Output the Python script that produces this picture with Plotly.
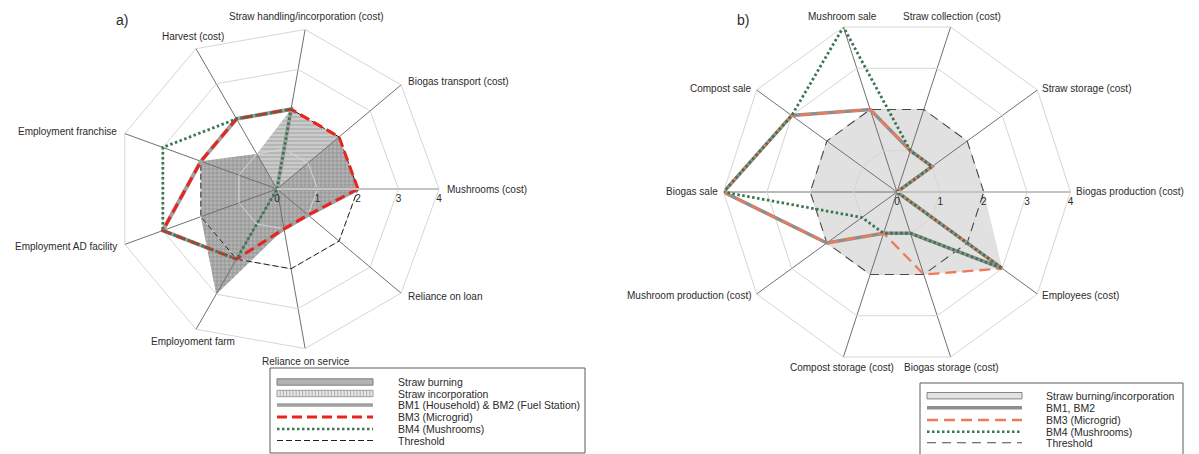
import math
import plotly.graph_objects as go

W, H = 1199, 454

# ---- panel a) business-model comparison (9 criteria) ----
cats_a = [
    "Mushrooms (cost)",
    "Biogas transport (cost)",
    "Straw handling/incorporation (cost)",
    "Harvest (cost)",
    "Employment franchise",
    "Employment AD facility",
    "Employoment farm",
    "Reliance on service",
    "Reliance on loan",
]
straw_burning_a = [2, 2, 2, 1, 2, 2, 3, 1, 1]
straw_incorporation_a = [2, 2, 0, 1, 2, 2, 3, 1, 1]
bm12_a = [2, 0, 2, 2, 2, 3, 2, 1, 1]
bm3_a = [2, 2, 2, 2, 2, 3, 2, 1, 1]
bm4_a = [0, 0, 2, 2, 3, 3, 2, 0, 0]
threshold_a = [2, 2, 2, 2, 2, 2, 2, 2, 2]

# ---- panel b) cost / revenue criteria (10 criteria) ----
cats_b = [
    "Biogas production (cost)",
    "Straw storage (cost)",
    "Straw collection (cost)",
    "Mushroom sale",
    "Compost sale",
    "Biogas sale",
    "Mushroom production (cost)",
    "Compost storage (cost)",
    "Biogas storage (cost)",
    "Employees (cost)",
]
straw_b = [2, 2, 2, 2, 2, 2, 2, 2, 2, 3]
bm12_b = [0, 1, 1, 2, 3, 4, 2, 1, 1, 3]
bm3_b = [0, 1, 1, 2, 3, 4, 2, 1, 2, 3]
bm4_b = [0, 1, 1, 4, 3, 4, 1, 1, 1, 3]
threshold_b = [2, 2, 2, 2, 2, 2, 2, 2, 2, 2]

radial_ticks = [0, 1, 2, 3, 4]
r_max = 4

legend_a = ["Straw burning", "Straw incorporation",
            "BM1 (Household) & BM2 (Fuel Station)", "BM3 (Microgrid)",
            "BM4 (Mushrooms)", "Threshold"]
legend_b = ["Straw burning/incorporation", "BM1, BM2", "BM3 (Microgrid)",
            "BM4 (Mushrooms)", "Threshold"]

# ---- layout geometry (pixels) ----
CX_A, CY_A, R_A = 277, 189, 162
CX_B, CY_B, R_B = 897, 192, 173.5
FONT = "Liberation Sans, Arial, sans-serif"
TXT = "#2b2b2b"


def px(x):
    return x / W


def py(y):
    return 1 - y / H


def domain(cx, cy, r):
    return dict(x=[px(cx - r), px(cx + r)], y=[py(cy + r), py(cy - r)])


def closed(v):
    v = list(v)
    return v + v[:1]


def polygon_xy(values):
    n = len(values)
    xs = [v * math.cos(2 * math.pi * i / n) for i, v in enumerate(values)]
    ys = [v * math.sin(2 * math.pi * i / n) for i, v in enumerate(values)]
    return closed(xs), closed(ys)


fig = go.Figure()

# ---- hatched straw areas (cartesian layer sits beneath the polar grid) ----
xb, yb = polygon_xy(straw_burning_a)
fig.add_trace(go.Scatter(
    x=xb, y=yb, xaxis="x", yaxis="y", mode="lines", fill="toself",
    line=dict(width=0), fillcolor="rgba(140,140,140,0.45)",
    fillpattern=dict(shape="-", fgcolor="#858585", size=4, solidity=0.3,
                     fillmode="overlay"),
    hoverinfo="skip", showlegend=False))
xi, yi = polygon_xy(straw_incorporation_a)
fig.add_trace(go.Scatter(
    x=xi, y=yi, xaxis="x", yaxis="y", mode="lines", fill="toself",
    line=dict(width=0), fillcolor="rgba(140,140,140,0.36)",
    fillpattern=dict(shape="|", fgcolor="#858585", size=4, solidity=0.3,
                     fillmode="overlay"),
    hoverinfo="skip", showlegend=False))
xs, ys = polygon_xy(straw_b)
fig.add_trace(go.Scatter(
    x=xs, y=ys, xaxis="x2", yaxis="y2", mode="lines", fill="toself",
    line=dict(width=0), fillcolor="#e1e1e1",
    hoverinfo="skip", showlegend=False))

# ---- panel a lines ----
fig.add_trace(go.Scatterpolar(
    r=closed(threshold_a), theta=closed(cats_a), subplot="polar", mode="lines",
    line=dict(color="#1e1e1e", width=1, dash="6px,3px"), showlegend=False))
fig.add_trace(go.Scatterpolar(
    r=closed(bm12_a), theta=closed(cats_a), subplot="polar", mode="lines",
    line=dict(color="#a0a0a0", width=4), showlegend=False))
fig.add_trace(go.Scatterpolar(
    r=closed(bm3_a), theta=closed(cats_a), subplot="polar", mode="lines",
    line=dict(color="#e8241d", width=3, dash="10px,5px"), showlegend=False))
fig.add_trace(go.Scatterpolar(
    r=closed(bm4_a), theta=closed(cats_a), subplot="polar", mode="lines",
    line=dict(color="#3b7650", width=2.8, dash="2.5px,2.5px"), showlegend=False))

# ---- panel b lines ----
fig.add_trace(go.Scatterpolar(
    r=closed(threshold_b), theta=closed(cats_b), subplot="polar2", mode="lines",
    line=dict(color="#4a4a4a", width=1.1, dash="9px,6px"), showlegend=False))
fig.add_trace(go.Scatterpolar(
    r=closed(bm12_b), theta=closed(cats_b), subplot="polar2", mode="lines",
    line=dict(color="#8e8e8e", width=3.5), showlegend=False))
fig.add_trace(go.Scatterpolar(
    r=closed(bm3_b), theta=closed(cats_b), subplot="polar2", mode="lines",
    line=dict(color="#ee7a5a", width=2.3, dash="11px,6px"), showlegend=False))
fig.add_trace(go.Scatterpolar(
    r=closed(bm4_b), theta=closed(cats_b), subplot="polar2", mode="lines",
    line=dict(color="#3b7650", width=2.8, dash="2.5px,2.5px"), showlegend=False))


def polar_layout(cx, cy, r):
    return dict(
        domain=domain(cx, cy, r),
        bgcolor="rgba(0,0,0,0)",
        gridshape="linear",
        radialaxis=dict(range=[0, r_max], tickvals=radial_ticks, angle=0,
                        showline=True, linecolor="#c4c4c4", linewidth=2,
                        gridcolor="#d6d6d6", gridwidth=1, ticks="",
                        tickfont=dict(size=10, color=TXT, family=FONT)),
        angularaxis=dict(rotation=0, direction="counterclockwise",
                         showticklabels=False, ticks="",
                         gridcolor="#707070", gridwidth=1,
                         showline=True, linecolor="#d6d6d6", linewidth=1),
    )


annotations = []
shapes = []


def category_labels(cats, cx, cy, r, pad):
    n = len(cats)
    for i, c in enumerate(cats):
        a = 2 * math.pi * i / n
        ca, sa = math.cos(a), math.sin(a)
        x = cx + (r + pad) * ca
        y = cy - (r + pad) * sa
        if abs(ca) < 0.6:
            xa = "center"
            ya = "bottom" if sa > 0 else "top"
        else:
            xa = "left" if ca > 0 else "right"
            ya = "middle"
        annotations.append(dict(
            text=c, x=px(x), y=py(y), xref="paper", yref="paper",
            xanchor=xa, yanchor=ya, showarrow=False,
            font=dict(size=10, color=TXT, family=FONT)))


category_labels(cats_a, CX_A, CY_A, R_A, 6)
category_labels(cats_b, CX_B, CY_B, R_B, 3)

# panel letters
for txt, x, y in [("a)", 122, 20), ("b)", 743, 20)]:
    annotations.append(dict(text=txt, x=px(x), y=py(y), xref="paper",
                            yref="paper", xanchor="center", yanchor="middle",
                            showarrow=False,
                            font=dict(size=14, color=TXT, family=FONT)))


def add_legend(box, rows, x0, x1, tx, labels, styles):
    bx0, by0, bx1, by1 = box
    shapes.append(dict(type="rect", xref="paper", yref="paper",
                       x0=px(bx0), x1=px(bx1), y0=py(by1), y1=py(by0),
                       line=dict(color="#5a5a5a", width=1),
                       fillcolor="rgba(255,255,255,0)"))
    for y, lab, st in zip(rows, labels, styles):
        kind = st[0]
        if kind == "rect":
            _, fill, edge, hatch = st
            shapes.append(dict(type="rect", xref="paper", yref="paper",
                               x0=px(x0), x1=px(x1), y0=py(y + 3.2),
                               y1=py(y - 3.2), fillcolor=fill,
                               line=dict(color=edge, width=1)))
            if hatch:
                path = ""
                xx = x0 + 3.2
                while xx < x1 - 1:
                    path += "M{:.5f},{:.5f}L{:.5f},{:.5f}".format(
                        px(xx), py(y + 3.2), px(xx), py(y - 3.2))
                    xx += 3.2
                shapes.append(dict(type="path", xref="paper", yref="paper",
                                   path=path, line=dict(color="#a8a8a8",
                                                        width=1)))
        else:
            _, color, width, dash = st
            shapes.append(dict(type="line", xref="paper", yref="paper",
                               x0=px(x0), x1=px(x1), y0=py(y), y1=py(y),
                               line=dict(color=color, width=width, dash=dash)))
        annotations.append(dict(text=lab, x=px(tx), y=py(y), xref="paper",
                                yref="paper", xanchor="left",
                                yanchor="middle", showarrow=False,
                                font=dict(size=10.5, color=TXT, family=FONT)))


add_legend((270, 368, 585, 453), [382, 393.5, 405, 417, 429, 440.5],
           277, 373, 396, legend_a,
           [("rect", "#b3b3b3", "#7e7e7e", False),
            ("rect", "#e8e8e8", "#9a9a9a", True),
            ("line", "#a0a0a0", 3.5, "solid"),
            ("line", "#e8241d", 3, "10px,5px"),
            ("line", "#3b7650", 2.5, "2.5px,2.5px"),
            ("line", "#1e1e1e", 1, "6px,3px")])

add_legend((920, 383, 1183, 470), [395.7, 407.7, 420, 431.7, 442.7],
           927, 1022, 1044, legend_b,
           [("rect", "#e3e3e3", "#858585", False),
            ("line", "#8e8e8e", 3.5, "solid"),
            ("line", "#ee7a5a", 2.3, "11px,6px"),
            ("line", "#3b7650", 2.5, "2.5px,2.5px"),
            ("line", "#4a4a4a", 1.1, "9px,6px")])

dA = domain(CX_A, CY_A, R_A)
dB = domain(CX_B, CY_B, R_B)
hidden = dict(visible=False, range=[-r_max, r_max], fixedrange=True,
              showgrid=False, zeroline=False)

fig.update_layout(
    width=W, height=H,
    margin=dict(l=0, r=0, t=0, b=0),
    paper_bgcolor="white",
    plot_bgcolor="rgba(0,0,0,0)",
    font=dict(family=FONT, color=TXT, size=10),
    showlegend=False,
    polar=polar_layout(CX_A, CY_A, R_A),
    polar2=polar_layout(CX_B, CY_B, R_B),
    xaxis=dict(domain=dA["x"], anchor="y", **hidden),
    yaxis=dict(domain=dA["y"], anchor="x", **hidden),
    xaxis2=dict(domain=dB["x"], anchor="y2", **hidden),
    yaxis2=dict(domain=dB["y"], anchor="x2", **hidden),
    annotations=annotations,
    shapes=shapes,
)

fig.write_html("out.html")
